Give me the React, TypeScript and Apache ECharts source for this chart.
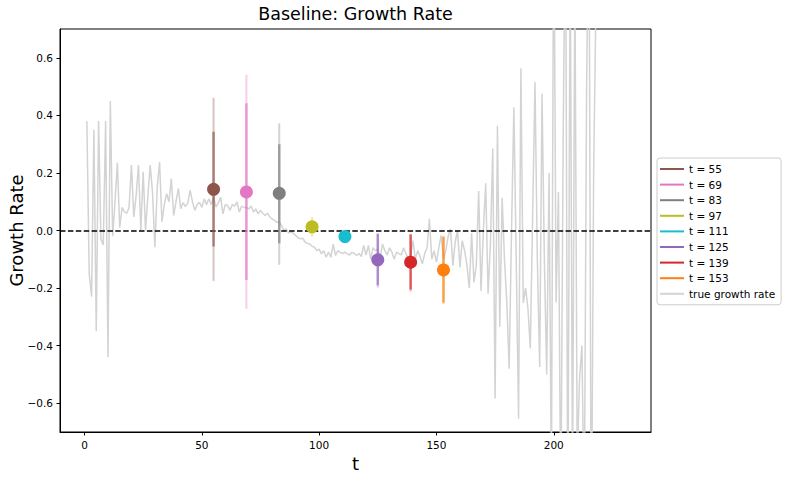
import React, { useEffect, useRef } from "react";
import * as echarts from "echarts";

// true growth rate values for t = 1, 2, 3, ...
const trueGrowth: number[] = [
  0.38, -0.15, -0.23, 0.35, -0.35, 0.38, -0.03, -0.05, 0.38, -0.44,
  0.45, -0.02, 0.10, 0.235, 0.01, 0.08, 0.065, 0.06, 0.08, 0.227,
  0.047, 0.12, 0.227, 0.0, 0.204, 0.0, 0.12, 0.227, 0.13, -0.058,
  0.15, 0.238, 0.03, 0.09, 0.128, 0.10, 0.18, 0.052, 0.10, 0.146,
  0.076, 0.097, 0.083, 0.095, 0.14, 0.10, 0.07, 0.09, 0.098, 0.08,
  0.11, 0.09, 0.11, 0.09, 0.116, 0.081, 0.095, 0.116, 0.058, 0.09,
  0.087, 0.07, 0.09, 0.085, 0.099, 0.064, 0.085, 0.08, 0.08, 0.075,
  0.085, 0.064, 0.075, 0.058, 0.07, 0.06, 0.052, 0.06, 0.047, 0.04,
  0.035, 0.028, 0.03, 0.017, 0.0, 0.005, -0.009, -0.005, -0.01, -0.017,
  -0.025, -0.029, -0.027, -0.04, -0.045, -0.047, -0.055, -0.058, -0.07, -0.065,
  -0.081, -0.07, -0.093, -0.075, -0.093, -0.047, -0.087, -0.07, -0.076, -0.08,
  -0.075, -0.081, -0.085, -0.076, -0.08, -0.087, -0.08, -0.09, -0.052, -0.085,
  -0.052, -0.1, -0.06, -0.07, -0.065, -0.095, -0.047, -0.07, -0.085, -0.06,
  -0.075, -0.1, -0.075, -0.08, -0.085, -0.06, -0.08, -0.1, -0.085, -0.035,
  -0.1, -0.07, -0.09, -0.116, -0.08, -0.06, 0.041, -0.1, -0.07, -0.11,
  -0.06, -0.017, -0.1, -0.07, -0.02, 0.006, -0.122, -0.04, 0.0, -0.128,
  -0.035, -0.07, -0.12, -0.2, -0.01, -0.18, -0.12, 0.137, -0.21, 0.0,
  0.164, -0.22, -0.05, 0.285, -0.584, 0.364, -0.334, 0.114, -0.1, -0.25,
  -0.48, 0.0, 0.428, -0.1, -0.654, 0.564, -0.252, -0.2, -0.27, -0.41,
  0.05, 0.516, -0.1, -0.474, 0.475, -0.1, -0.5, 0.2, -0.9, 1.2,
  -0.25, 0.134, -1.0, 0.3, 1.2, -1.1, 1.0, -0.9, 0.9, -0.8,
  -0.514, -0.4, -1.0, 0.5, 1.2, -1.2, 0.2, 0.8, 1.5,
];

// estimate points
const estT: number[] = [55, 69, 83, 97, 111, 125, 139, 153];
const estValue: number[] = [0.143, 0.134, 0.129, 0.013, -0.021, -0.102, -0.11, -0.137];
const innerLo: number[] = [-0.056, -0.172, -0.044, -0.005, -0.028, -0.19, -0.205, -0.25];
const innerHi: number[] = [0.343, 0.442, 0.30, 0.03, -0.014, -0.012, -0.014, -0.022];
const outerLo: number[] = [-0.175, -0.272, -0.119, -0.021, -0.032, -0.198, -0.212, -0.256];
const outerHi: number[] = [0.461, 0.541, 0.372, 0.046, -0.01, -0.009, -0.012, -0.02];
const estColors: string[] = ["#8c564b", "#e377c2", "#7f7f7f", "#bcbd22", "#17becf", "#9467bd", "#d62728", "#ff7f0e"];

const xTicks: number[] = [0, 50, 100, 150, 200];
const yTicks: number[] = [-0.6, -0.4, -0.2, 0.0, 0.2, 0.4, 0.6];

const FONT = "DejaVu Sans";

export default function App() {
  const ref = useRef<HTMLDivElement>(null);
  useEffect(() => {
    if (!ref.current) return;
    const chart = echarts.init(ref.current, undefined, { renderer: "svg" });

    const series: any[] = [];
    series.push({
      name: "true growth rate",
      type: "line",
      data: trueGrowth.map((v, i) => [i + 1, v]),
      showSymbol: false,
      lineStyle: { color: "#d3d3d3", width: 1.5 },
      itemStyle: { color: "#d3d3d3" },
      z: 1,
      clip: true,
      markLine: {
        silent: true,
        symbol: "none",
        label: { show: false },
        lineStyle: { color: "#000", type: [5.5, 2.4], width: 1.5 },
        data: [{ yAxis: 0 }],
        z: 2,
      },
    });
    estT.forEach((t, i) => {
      const c = estColors[i];
      series.push({
        name: "outer" + i,
        type: "line",
        data: [[t, outerLo[i]], [t, outerHi[i]]],
        showSymbol: false,
        lineStyle: { color: c, width: 2, opacity: 0.35 },
        z: 3,
      });
      series.push({
        name: "t = " + t,
        type: "line",
        data: [[t, innerLo[i]], [t, innerHi[i]]],
        showSymbol: false,
        lineStyle: { color: c, width: 2.5, opacity: 0.65 },
        itemStyle: { color: c },
        z: 4,
      });
      series.push({
        name: "pt" + i,
        type: "scatter",
        data: [[t, estValue[i]]],
        symbol: "circle",
        symbolSize: 13,
        itemStyle: { color: c, opacity: 1 },
        z: 5,
      });
    });

    const legendData = estT
      .map((t, i) => ({ name: "t = " + t, itemStyle: { color: estColors[i], opacity: 1 } }))
      .concat([{ name: "true growth rate", itemStyle: { color: "#d3d3d3", opacity: 1 } }]);

    chart.setOption({
      animation: false,
      textStyle: { fontFamily: FONT },
      grid: {
        left: 60,
        right: 138,
        top: 29,
        bottom: 45,
        outerBoundsMode: "none",
        containLabel: false,
        show: true,
        borderColor: "#000",
        borderWidth: 1,
        backgroundColor: "transparent",
      },
      graphic: [
        {
          type: "text",
          x: 355.5,
          y: 14,
          style: {
            text: "Baseline: Growth Rate",
            font: `17.5px "${FONT}"`,
            fill: "#000",
            textAlign: "center",
            textVerticalAlign: "middle",
          },
        },
        {
          type: "text",
          x: 16,
          y: 230.5,
          rotation: Math.PI / 2,
          style: {
            text: "Growth Rate",
            font: `18px "${FONT}"`,
            fill: "#000",
            textAlign: "center",
            textVerticalAlign: "middle",
          },
        },
      ],
      legend: {
        orient: "vertical",
        left: 657,
        top: 158,
        data: legendData,
        icon: "rect",
        itemWidth: 24,
        itemHeight: 2,
        itemGap: 3.6,
        padding: [5, 6, 5, 3],
        borderColor: "#cccccc",
        borderWidth: 1,
        borderRadius: 3,
        backgroundColor: "#fff",
        selectedMode: false,
        textStyle: { fontFamily: FONT, fontSize: 10.5, color: "#000", lineHeight: 12 },
      },
      xAxis: {
        type: "value",
        min: -10.45,
        max: 241.45,
        name: "t",
        nameLocation: "middle",
        nameGap: 18,
        nameTextStyle: { fontFamily: FONT, fontSize: 18, color: "#000" },
        axisLine: { show: true, onZero: false, lineStyle: { color: "#000", width: 1 } },
        axisTick: { show: true, length: 3.5, lineStyle: { color: "#000" }, customValues: xTicks },
        axisLabel: {
          fontFamily: FONT,
          fontSize: 10.5,
          color: "#000",
          margin: 7,
          customValues: xTicks,
          formatter: (v: number) => String(v),
        },
        splitLine: { show: false },
      },
      yAxis: {
        type: "value",
        min: -0.7,
        max: 0.7,
        axisLine: { show: true, onZero: false, lineStyle: { color: "#000", width: 1 } },
        axisTick: { show: true, length: 3.5, lineStyle: { color: "#000" }, customValues: yTicks },
        axisLabel: {
          fontFamily: FONT,
          fontSize: 10.5,
          color: "#000",
          margin: 7,
          customValues: yTicks,
          formatter: (v: number) => v.toFixed(1).replace("-", "\u2212"),
        },
        splitLine: { show: false },
      },
      series,
    });
    return () => chart.dispose();
  }, []);
  return (
    <div
      ref={ref}
      style={{ position: "fixed", left: 0, top: 0, width: 789, height: 477, background: "#fff" }}
    />
  );
}
